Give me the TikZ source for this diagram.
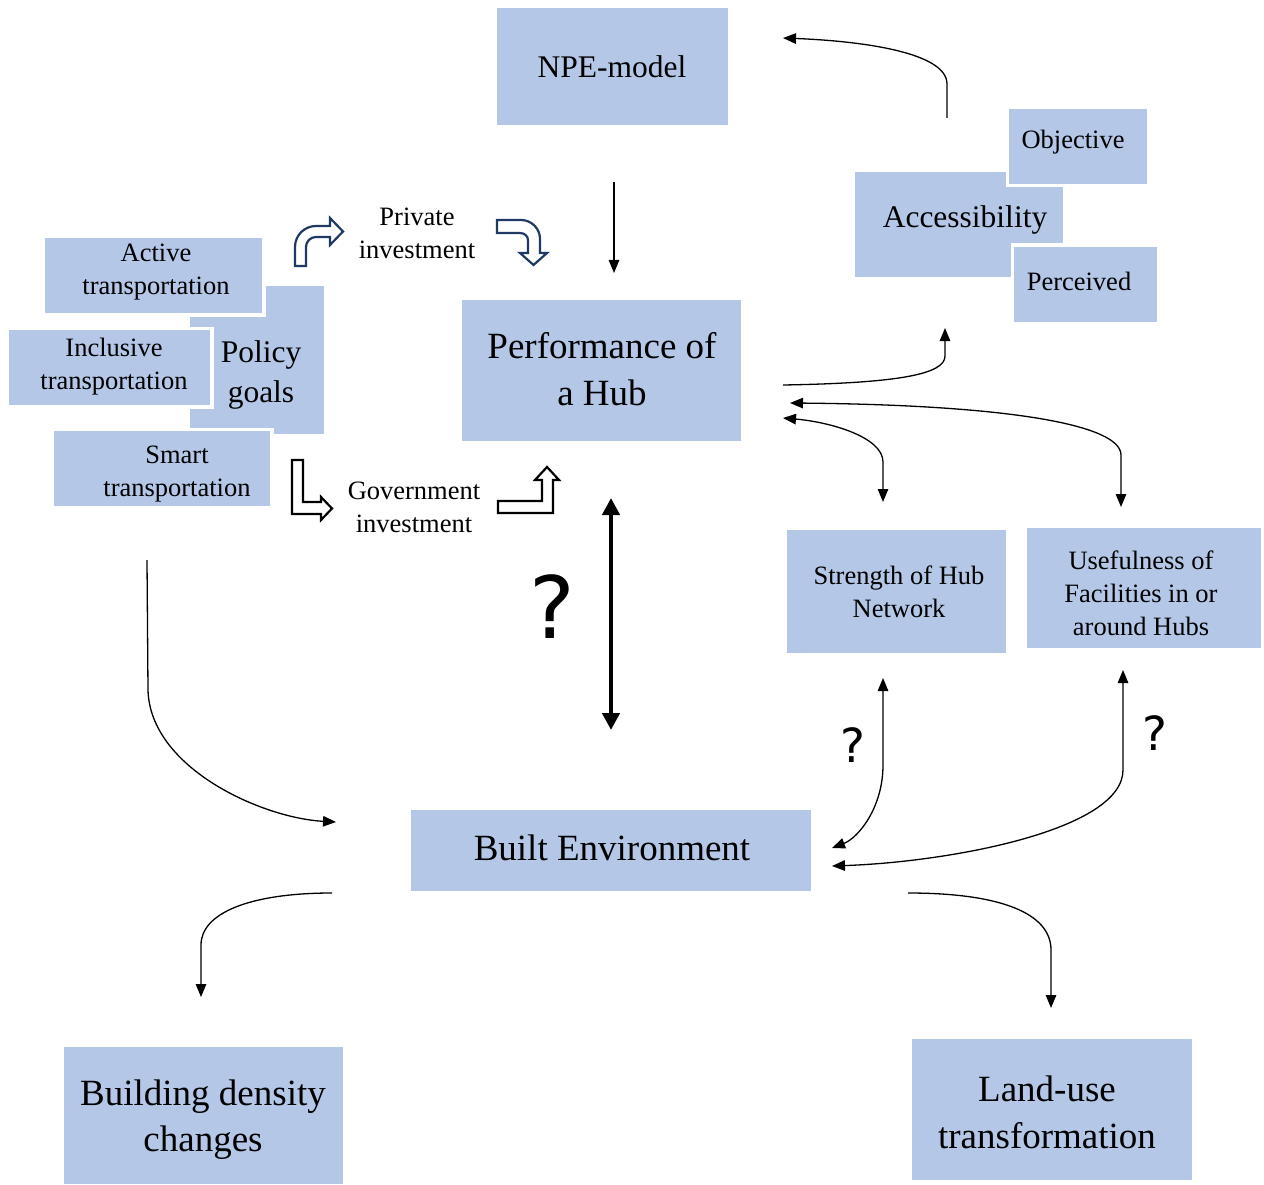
\documentclass[tikz,border=0pt]{standalone}
\usepackage{fontspec}
\setmainfont{Liberation Serif}
\newfontfamily\qmarkfont{DejaVu Sans}
\usetikzlibrary{arrows.meta}
\definecolor{boxblue}{HTML}{B4C7E7}
\definecolor{navyline}{HTML}{203864}

\begin{document}
\begin{tikzpicture}[x=1pt,y=-1pt,
  box/.style={fill=boxblue, inner sep=0pt},
  overbox/.style={box, draw=white, line width=3.5pt},
  lbl/.style={inner sep=0pt, align=center},
  fs/.style={font=\fontsize{26.5}{33}\selectfont},
  fm/.style={font=\fontsize{31.5}{40}\selectfont},
  fl/.style={font=\fontsize{37}{46.5}\selectfont},
  link/.style={line width=1.3pt, -{Triangle[length=13pt,width=10.5pt]}},
  biglink/.style={line width=1.3pt, {Triangle[length=13pt,width=10.5pt]}-{Triangle[length=13pt,width=10.5pt]}},
  blockarrow/.style={line width=2.2pt, fill=white, line join=miter},
  qmark/.style={inner sep=0pt, anchor=base, font=\qmarkfont},
]
\useasboundingbox (0,0) rectangle (1264,1185);

% ---------- boxes ----------
\node[box, minimum width=231pt, minimum height=117pt] (npe) at (612.5,66.5) {};
\node[lbl, fm] (npe-t) at (612,67) {NPE-model};

\node[box, minimum width=279pt, minimum height=141pt] (perf) at (601.5,370.5) {};
\node[lbl, fl] (perf-t) at (602,369) {Performance of\\a Hub};

% policy goals cluster
\node[box, minimum width=134pt, minimum height=148pt] (policy) at (257,360) {};
\node[overbox, minimum width=220.5pt, minimum height=78.5pt] (active) at (153.5,275.5) {};
\node[overbox, minimum width=204.5pt, minimum height=78.5pt] (inclusive) at (109.5,367.5) {};
\node[overbox, minimum width=219.5pt, minimum height=78.5pt] (smart) at (162,468.5) {};
\node[lbl, fm] (policy-t) at (261,375) {Policy\\goals};
\node[lbl, fs] (active-t) at (156,272) {Active\\transportation};
\node[lbl, fs] (inclusive-t) at (114,367) {Inclusive\\transportation};
\node[lbl, fs] (smart-t) at (177,474) {Smart\\transportation};

% accessibility cluster
\node[box, minimum width=208pt, minimum height=105pt] (access) at (959,224.5) {};
\node[overbox, minimum width=141.5pt, minimum height=78.5pt] (objective) at (1078,146.5) {};
\node[overbox, minimum width=146.5pt, minimum height=78.5pt] (perceived) at (1085.5,284.5) {};
\node[lbl, fm] (access-t) at (965,219.5) {Accessibility};
\node[lbl, fs] (objective-t) at (1073,142) {Objective};
\node[lbl, fs] (perceived-t) at (1079,281) {Perceived};

\node[box, minimum width=219pt, minimum height=123pt] (strength) at (896.5,591.5) {};
\node[lbl, fs] (strength-t) at (899,591.5) {Strength of Hub\\Network};

\node[box, minimum width=234pt, minimum height=120pt] (useful) at (1144,588) {};
\node[lbl, fs] (useful-t) at (1141,593) {Usefulness of\\Facilities in or\\around Hubs};

\node[box, minimum width=400pt, minimum height=81pt] (built) at (611,850.5) {};
\node[lbl, fl] (built-t) at (612,848) {Built Environment};

\node[box, minimum width=279pt, minimum height=137pt] (density) at (203.5,1115.5) {};
\node[lbl, fl] (density-t) at (203,1119.5) {Building density\\changes};

\node[box, minimum width=280pt, minimum height=141pt] (landuse) at (1052,1109.5) {};
\node[lbl, fl] (landuse-t) at (1047,1112.5) {Land-use\\transformation};

% ---------- investment labels ----------
\node[lbl, fs] (private) at (417,233) {Private\\investment};
\node[lbl, fs] (government) at (414,507) {Government\\investment};

% ---------- block arrows ----------
\draw[blockarrow, draw=navyline]
  (295,266) -- (295,247) to[out=90,in=180] (316,226) -- (330,226) -- (330,218)
  -- (343,231.5) -- (330,245) -- (330,237) -- (316,237) to[out=180,in=90] (306,247)
  -- (306,266) -- cycle;
\draw[blockarrow, draw=navyline]
  (497,220) -- (521,220) to[out=0,in=90] (540,239) -- (540,253) -- (547,253)
  -- (533.5,265) -- (520,253) -- (528,253) -- (528,240) to[out=90,in=0] (520,233)
  -- (497,233) -- cycle;
\draw[blockarrow, draw=black]
  (292,460) -- (303,460) -- (303,502) -- (321,502) -- (321,497) -- (332,508.5)
  -- (321,520) -- (321,514) -- (292,514) -- cycle;
\draw[blockarrow, draw=black]
  (498,501) -- (542,501) -- (542,480) -- (535,480) -- (547,467) -- (559,480)
  -- (553,480) -- (553,513) -- (498,513) -- cycle;

% ---------- connector end points ----------
\coordinate (npe-out) at (614,182);
\coordinate (perf-in) at (614,273);
\coordinate (acc-out) at (947,118);
\coordinate (npe-in) at (783,38);
\coordinate (perf-acc) at (783,385);
\coordinate (acc-in) at (945,328);
\coordinate (perf-str) at (783,418);
\coordinate (str-top) at (883,502);
\coordinate (perf-use) at (790,403);
\coordinate (use-top) at (1121,507);
\coordinate (perf-bot) at (611,498);
\coordinate (built-top) at (611,730);
\coordinate (str-bot) at (883,678);
\coordinate (built-str) at (832,848);
\coordinate (use-bot) at (1123,670);
\coordinate (built-use) at (832,866);
\coordinate (policy-out) at (147,560);
\coordinate (built-in) at (336,822);
\coordinate (built-left) at (332,893);
\coordinate (density-in) at (201,997);
\coordinate (built-right) at (908,893);
\coordinate (landuse-in) at (1051,1008);

% ---------- connectors ----------
\draw[link] (npe-out) -- (perf-in);
\draw[link] (acc-out) -- (947,84) .. controls (947,52) and (860,41) .. (npe-in);
\draw[link] (perf-acc) .. controls (900,383) and (945,374) .. (945,356) -- (acc-in);
\draw[biglink] (perf-str) .. controls (830,422) and (883,437) .. (883,462) -- (str-top);
\draw[biglink] (perf-use) .. controls (1010,405) and (1121,425) .. (1121,455) -- (use-top);
\draw[line width=4.5pt, {Triangle[length=17pt,width=17pt]}-{Triangle[length=17pt,width=17pt]}]
  (perf-bot) -- (built-top);
\draw[biglink] (str-bot) -- (883,765) .. controls (883,808) and (858,838) .. (built-str);
\draw[biglink] (use-bot) -- (1123,770) .. controls (1123,830) and (950,862) .. (built-use);
\draw[link] (policy-out) -- (148,690) .. controls (150,768) and (262,818) .. (built-in);
\draw[link] (built-left) .. controls (250,893) and (201,913) .. (201,945) -- (density-in);
\draw[link] (built-right) .. controls (1000,893) and (1051,913) .. (1051,950) -- (landuse-in);

% ---------- question marks ----------
\node[qmark, font=\qmarkfont\fontsize{86}{86}\selectfont] (q-main) at (552,638) {?};
\node[qmark, font=\qmarkfont\fontsize{47}{47}\selectfont] (q-str) at (853,762) {?};
\node[qmark, font=\qmarkfont\fontsize{47}{47}\selectfont] (q-use) at (1155,750) {?};
\end{tikzpicture}
\end{document}
